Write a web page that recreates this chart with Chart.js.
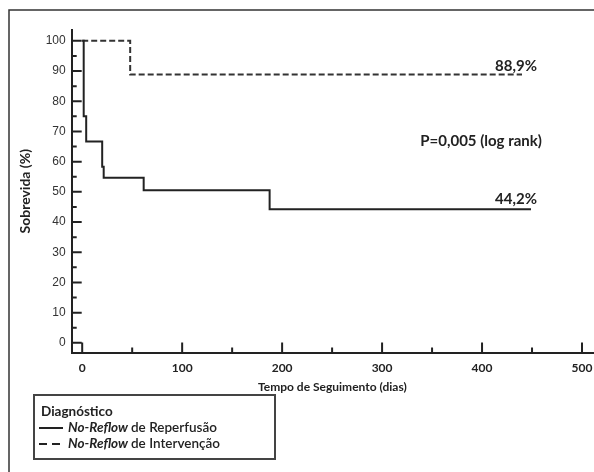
<!DOCTYPE html>
<html>
<head>
<meta charset="utf-8">
<script src="https://cdn.jsdelivr.net/npm/chart.js@4/dist/chart.umd.min.js"></script>
<style>
  body { margin: 0; background: #fff; }
  #wrap { position: relative; width: 594px; height: 472px; }
</style>
</head>
<body>
<div id="wrap"><canvas id="km-canvas"></canvas></div>
<script>
// Kaplan-Meier: tempo (dias) e sobrevida (%)
const tempoReperfusao = [0, 1.5, 4, 20, 21.5, 61.5, 187.5, 449];
const sobrevidaReperfusao = [100, 75, 66.7, 58.3, 54.7, 50.5, 44.2, 44.2];
const tempoIntervencao = [0, 48, 440];
const sobrevidaIntervencao = [100, 88.9, 88.9];

const nomesSeries = ['de Reperfusão', 'de Intervenção'];
const xTicks = [0, 100, 200, 300, 400, 500];
const yTicks = [0, 10, 20, 30, 40, 50, 60, 70, 80, 90, 100];
const xMinor = [50, 150, 250, 350, 450];
const yMinor = [5, 15, 25, 35, 45, 55, 65, 75, 85, 95];
const notas = ['88,9%', '44,2%', 'P=0,005 (log rank)'];

function toPoints(xs, ys) {
    return xs.map((v, i) => ({x: v, y: ys[i]}));
}

Chart.defaults.font.family = 'Lato';
Chart.defaults.color = '#222';

// moldura, marcas internas dos eixos, textos e legenda
const extras = {
    id: 'extras',
    beforeDraw(chart) {
        const ctx = chart.ctx;
        ctx.save();
        ctx.strokeStyle = '#333';
        ctx.lineWidth = 1.5;
        ctx.beginPath();
        ctx.moveTo(9, 472);
        ctx.lineTo(9, 10);
        ctx.lineTo(594, 10);
        ctx.stroke();
        ctx.restore();
    },
    afterDraw(chart) {
        const {ctx, scales: {x, y}} = chart;
        ctx.save();
        ctx.strokeStyle = '#222';
        ctx.lineWidth = 2;
        ctx.beginPath();
        yTicks.forEach(v => { let p = y.getPixelForValue(v); ctx.moveTo(x.left, p); ctx.lineTo(x.left + 10, p); });
        yMinor.forEach(v => { let p = y.getPixelForValue(v); ctx.moveTo(x.left, p); ctx.lineTo(x.left + 5, p); });
        xTicks.forEach(v => { let p = x.getPixelForValue(v); ctx.moveTo(p, y.bottom); ctx.lineTo(p, y.bottom - 10); });
        xMinor.forEach(v => { let p = x.getPixelForValue(v); ctx.moveTo(p, y.bottom); ctx.lineTo(p, y.bottom - 5); });
        ctx.stroke();

        // textos no gráfico
        ctx.fillStyle = '#222';
        ctx.font = 'bold 15px Lato';
        ctx.textBaseline = 'middle';
        ctx.textAlign = 'right';
        ctx.fillText(notas[0], x.getPixelForValue(455), y.getPixelForValue(91.5));
        ctx.fillText(notas[1], x.getPixelForValue(455), y.getPixelForValue(47.5));
        ctx.textAlign = 'center';
        ctx.fillText(notas[2], x.getPixelForValue(399), y.getPixelForValue(66.9));

        // legenda
        ctx.strokeStyle = '#444';
        ctx.lineWidth = 2;
        ctx.strokeRect(34, 395, 241, 64);
        ctx.textAlign = 'left';
        ctx.font = 'bold 13.5px Lato';
        ctx.fillText('Diagnóstico', 41, 412);
        const rows = [428, 444];
        rows.forEach((ry, i) => {
            ctx.strokeStyle = '#222';
            ctx.lineWidth = 2;
            ctx.setLineDash(i === 0 ? [] : [8, 5]);
            ctx.beginPath();
            ctx.moveTo(39, ry);
            ctx.lineTo(i === 0 ? 63 : 60, ry);
            ctx.stroke();
            ctx.setLineDash([]);
            ctx.font = 'italic bold 13.5px Lato';
            ctx.fillText('No-Reflow', 68, ry);
            let w = ctx.measureText('No-Reflow ').width;
            ctx.font = '600 13.5px Lato';
            ctx.fillText(nomesSeries[i], 68 + w, ry);
        });
        ctx.restore();
    }
};

let ctx = document.getElementById('km-canvas').getContext('2d');
let chart = new Chart(ctx, {
    type: 'line',
    data: {
        datasets: [{
            label: 'No-Reflow de Reperfusão',
            data: toPoints(tempoReperfusao, sobrevidaReperfusao),
            borderColor: '#222',
            borderWidth: 2,
            stepped: true,
            pointRadius: 0,
            fill: false
        }, {
            label: 'No-Reflow de Intervenção',
            data: toPoints(tempoIntervencao, sobrevidaIntervencao),
            borderColor: '#333',
            borderWidth: 2,
            borderDash: [6, 3],
            stepped: true,
            pointRadius: 0,
            fill: false
        }]
    },
    options: {
        responsive: true,
        maintainAspectRatio: false,
        animation: false,
        layout: {padding: {left: 10, top: 30, right: 1, bottom: 77}},
        plugins: {legend: {display: false}, tooltip: {enabled: false}},
        scales: {
            x: {
                type: 'linear',
                min: -10.5,
                max: 511,
                afterBuildTicks: s => { s.ticks = xTicks.map(v => ({value: v})); },
                afterFit: s => { s.height = 42.5; s.paddingLeft = 0; s.paddingRight = 0; },
                grid: {display: false, drawTicks: false},
                border: {display: true, color: '#222', width: 2},
                ticks: {padding: 8, font: {size: 12, weight: 'bold'}, color: '#222'},
                title: {display: true, text: 'Tempo de Seguimento (dias)', font: {size: 12, weight: 'bold'}, color: '#222', padding: {top: 0, bottom: 1}}
            },
            y: {
                min: -3.2,
                max: 103.6,
                afterBuildTicks: s => { s.ticks = yTicks.map(v => ({value: v})); },
                afterFit: s => { s.width = 61.7; s.paddingTop = 0; s.paddingBottom = 0; },
                grid: {display: false, drawTicks: false},
                border: {display: true, color: '#222', width: 2},
                ticks: {padding: 6, font: {family: 'Liberation Sans', size: 12}, color: '#333'},
                title: {display: true, text: 'Sobrevida (%)', font: {size: 14, weight: 'bold'}, color: '#222', padding: {top: 7, bottom: 0}}
            }
        }
    },
    plugins: [extras]
});
</script>
</body>
</html>
